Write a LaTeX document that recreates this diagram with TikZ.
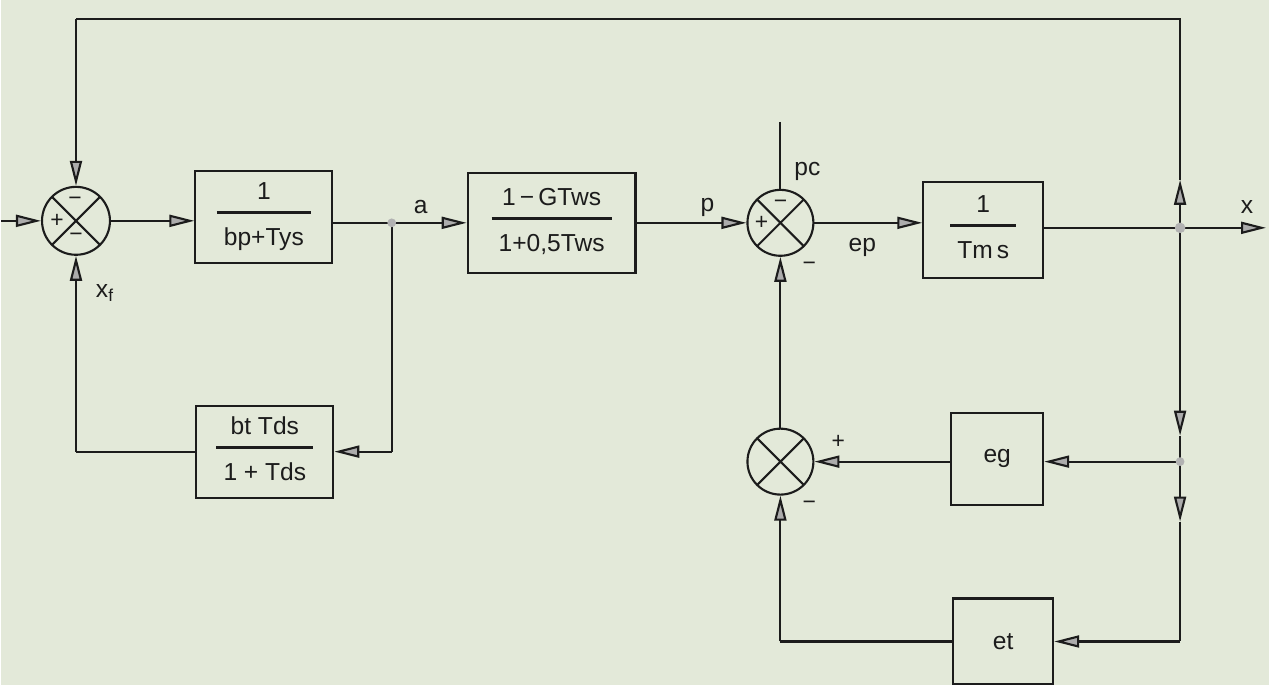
\documentclass[tikz,border=0pt]{standalone}
\usepackage{fontspec}
\setmainfont{Liberation Sans}
\usetikzlibrary{arrows.meta,calc}
\definecolor{paper}{RGB}{227,233,217}
\definecolor{ink}{RGB}{28,28,28}
\setlength{\arrayrulewidth}{1.3pt}
\newcommand{\blockfrac}[2]{\begin{tabular}{@{\hspace{4pt}}c@{\hspace{4pt}}}#1\\[2pt]\hline\rule{0pt}{18pt}#2\end{tabular}}

\begin{document}
\begin{tikzpicture}[
    x=0.02cm, y=-0.02cm,
    line width=1.2pt, color=ink,
    font=\fontsize{14}{16}\selectfont,
    block/.style={draw, inner sep=0pt, align=center},
    sum/.style={draw, circle, inner sep=0pt, minimum size=1.36cm,
      path picture={\draw (path picture bounding box.center) +(45:1cm) -- +(225:1cm)
        (path picture bounding box.center) +(135:1cm) -- +(315:1cm);}},
    arrow/.style={-{Triangle[length=5mm,width=2.4mm,fill=gray!65]}},
    sign/.style={font=\fontsize{13}{13}\selectfont, inner sep=0pt}
  ]
    \fill[paper] (0,0) rectangle (1269,686);

    % forward path
    \node[sum] (sum1) at (75,221) {};
    \node[block, minimum width=2.74cm, minimum height=1.84cm] (servo) at (263,217) {\blockfrac{1}{bp+Tys}};
    \node[block, minimum width=3.36cm, minimum height=2cm] (valve) at (551,223) {\blockfrac{1\,−\,GTws}{1+0,5Tws}};
    \node[sum, minimum size=1.32cm] (sum2) at (780,223) {};
    \node[block, minimum width=2.4cm, minimum height=1.92cm] (rotor) at (983,230) {\blockfrac{1}{Tm\,s}};

    % feedback blocks
    \node[block, minimum width=2.74cm, minimum height=1.84cm] (droop) at (264,452) {\blockfrac{bt Tds}{1 + Tds}};
    \node[sum, minimum size=1.32cm] (sum3) at (780,462) {};
    \node[block, minimum width=1.84cm, minimum height=1.84cm] (eg) at (997,459) {eg};
    \node[block, minimum width=2cm, minimum height=1.72cm] (et) at (1003,642) {et};

    % signs
    \node[sign] (s1a) at ($(sum1)+(-1,-20)$) {−};
    \node[sign] (s1b) at ($(sum1)+(-19,0)$) {+};
    \node[sign] (s1c) at ($(sum1)+(0,16)$) {−};
    \node[sign] (s2a) at ($(sum2)+(-19,0)$) {+};
    \node[sign] (s2b) at ($(sum2)+(0,-19)$) {−};
    \node[sign] (s2c) at ($(sum2)+(29,44)$) {−};
    \node[sign] (s3a) at ($(sum3)+(58,-20)$) {+};
    \node[sign] (s3b) at ($(sum3)+(29,44)$) {−};

    % labels
    \node (la) at (420,207) {a};
    \node (lp) at (707,208) {p};
    \node (lpc) at (807,172) {pc};
    \node (lep) at (862,248) {ep};
    \node (lx) at (1247,207) {x};
    \node (lxf) at (104,293) {x\textsubscript{f}};

    \coordinate (in) at (0,221);
    \coordinate (ja) at (391,223);
    \coordinate (pctop) at (780,122);
    \coordinate (jx) at (1180,228);
    \coordinate (out) at (1266,228);
    \coordinate (up) at (1180,180);
    \coordinate (tr) at (1180,19);
    \coordinate (tl) at (75,19);
    \coordinate (d1) at (1180,436);
    \coordinate (jeg) at (1180,462);
    \coordinate (d2) at (1180,522);
    \coordinate (jet) at (1180,642);
    \coordinate (bl) at (780,642);
    \coordinate (fbr) at (391,452);
    \coordinate (fbl) at (75,452);

    \draw[arrow] (in) -- (sum1);
    \draw[arrow] (sum1) -- (sum1 -| servo.west);
    \draw (servo.east |- ja) -- (ja);
    \draw[arrow] (ja) -- (valve);
    \draw[arrow] (valve) -- (sum2);
    \draw (pctop) -- (sum2);
    \draw[arrow] (sum2) -- (sum2 -| rotor.west);
    \draw (rotor.east |- jx) -- (jx);
    \draw[arrow] (jx) -- (out);
    \draw[arrow] (jx) -- (up);
    \draw (up) -- (tr) -- (tl);
    \draw[arrow] (tl) -- (sum1);
    \draw[arrow] (jx) -- (d1);
    \draw (d1) -- (jeg);
    \draw[arrow] (jeg) -- (jeg -| eg.east);
    \draw[arrow] (jeg -| eg.west) -- (sum3);
    \draw[arrow] (jeg) -- (d2);
    \draw (d2) -- (jet);
    \draw[arrow] (jet) -- (et);
    \draw (et) -- (bl);
    \draw[arrow] (bl) -- (sum3);
    \draw[arrow] (sum3) -- (sum2);
    \draw (ja) -- (fbr);
    \draw[arrow] (fbr) -- (droop);
    \draw (droop) -- (fbl);
    \draw[arrow] (fbl) -- (sum1);

    \fill[gray!60] (ja) circle (2.5pt) (jx) circle (3pt) (jeg) circle (2.5pt);
  \end{tikzpicture}
\end{document}
